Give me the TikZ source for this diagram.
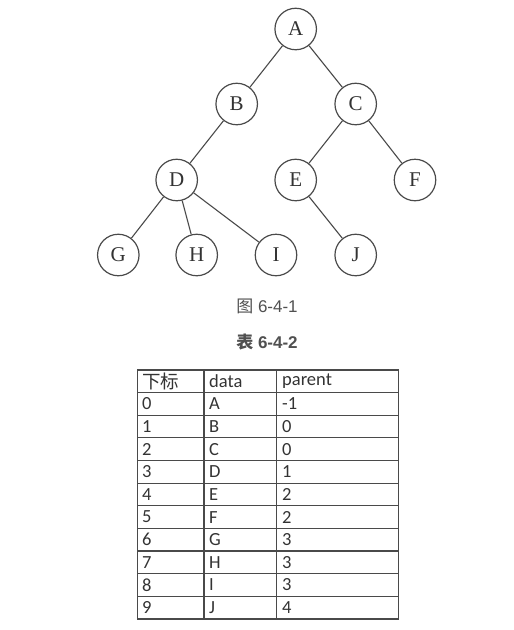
\documentclass[tikz,border=0pt]{standalone}
\usepackage{fontspec}
\setmainfont{Liberation Serif}
\newfontfamily\tabfont{Carlito}
\newfontfamily\cjk{Noto Sans CJK SC}
\newfontfamily\capfont{Liberation Sans}
\definecolor{ink}{HTML}{333333}
\definecolor{edge}{HTML}{4A4A4A}
\definecolor{captxt}{HTML}{505050}
\begin{document}
\begin{tikzpicture}[x=1pt,y=-1pt,
  tnode/.style={circle,draw=edge,line width=1.2pt,minimum size=41.5pt,inner sep=0pt,
    text=ink,font=\fontsize{21}{21}\selectfont},
  tedge/.style={draw=edge,line width=1.1pt},
  cell/.style={anchor=west,inner sep=0pt,text=ink,font=\tabfont\fontsize{18.5}{19}\selectfont},
  tgrid/.style={draw=edge,line width=1.1pt},
  captext/.style={text=captxt,inner sep=0pt,font=\capfont\fontsize{17}{18}\selectfont}]
\useasboundingbox (0,0) rectangle (514,630);
% tree
\node[tnode] (A) at (295.7,29) {A};
\node[tnode] (B) at (236.7,104) {B};
\node[tnode] (C) at (355.7,104) {C};
\node[tnode] (D) at (176.7,180) {D};
\node[tnode] (E) at (295.7,180) {E};
\node[tnode] (F) at (415,180) {F};
\node[tnode] (G) at (118.3,255) {G};
\node[tnode] (H) at (196.7,255) {H};
\node[tnode] (I) at (276,255) {I};
\node[tnode] (J) at (355.7,255) {J};
\path[tedge] (A) -- (B) (A) -- (C) (B) -- (D) (C) -- (E) (C) -- (F)
  (D) -- (G) (D) -- (H) (D) -- (I) (E) -- (J);
% captions
\node[captext] (cap1) at (267,306) {{\cjk 图} 6-4-1};
\node[captext,font=\capfont\bfseries\fontsize{17}{18}\selectfont] (cap2) at (267,342) {{\cjk\bfseries 表} 6-4-2};
% table
\def\rowh{22.63}
\path[tgrid] (137.3,370) rectangle (398.3,619);
\foreach \k in {1,...,10} {\path[tgrid] (137.3,370+\k*\rowh) -- (398.3,370+\k*\rowh);}
\path[tgrid] (204,370) -- (204,619);
\path[tgrid] (276.7,370) -- (276.7,619);
\node[cell] (h0) at (142,381.5) {\cjk 下标};
\node[cell] (h1) at (209,381.5) {data};
\node[cell] (h2) at (282,381.5) {parent};
\foreach \i/\d/\p [count=\r] in {0/A/-1,1/B/0,2/C/0,3/D/1,4/E/2,5/F/2,6/G/3,7/H/3,8/I/3,9/J/4} {
  \node[cell] (r\i a) at (142,381.3+\r*\rowh) {\i};
  \node[cell] (r\i b) at (209,381.3+\r*\rowh) {\d};
  \node[cell] (r\i c) at (282,381.3+\r*\rowh) {\p};
}
\end{tikzpicture}
\end{document}
